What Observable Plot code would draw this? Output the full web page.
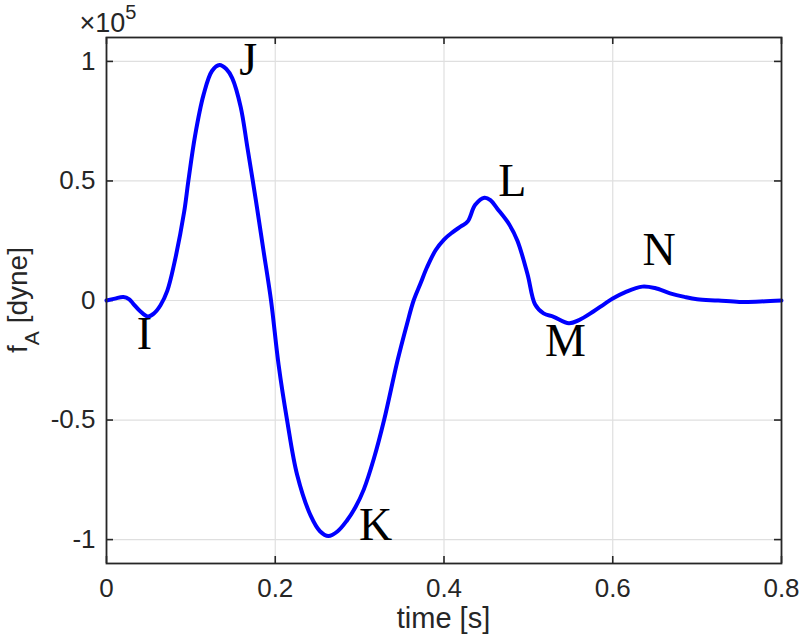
<!DOCTYPE html>
<html>
<head>
<meta charset="utf-8">
<script src="https://cdn.jsdelivr.net/npm/d3@7"></script>
<script src="https://cdn.jsdelivr.net/npm/@observablehq/plot@0.6"></script>
<style>
  html, body { margin: 0; padding: 0; background: #fff; }
</style>
</head>
<body>
<div id="chart"></div>
<script>
// time in seconds, force in units of 1e5 dyne
const time = [0, 0.01, 0.02, 0.027, 0.032, 0.04, 0.049, 0.056, 0.064, 0.072, 0.08, 0.092, 0.097, 0.105, 0.115, 0.125, 0.134, 0.142, 0.149, 0.159, 0.167, 0.177, 0.186, 0.195, 0.204, 0.214, 0.226, 0.242, 0.253, 0.263, 0.274, 0.285, 0.295, 0.305, 0.317, 0.329, 0.345, 0.356, 0.364, 0.372, 0.38, 0.39, 0.4, 0.41, 0.42, 0.428, 0.437, 0.448, 0.455, 0.463, 0.477, 0.487, 0.499, 0.508, 0.518, 0.53, 0.548, 0.56, 0.577, 0.59, 0.6, 0.615, 0.635, 0.65, 0.668, 0.685, 0.7, 0.725, 0.75, 0.775, 0.8];
const force = [0, 0.008, 0.015, 0.005, -0.015, -0.045, -0.067, -0.055, -0.02, 0.04, 0.15, 0.37, 0.5, 0.69, 0.86, 0.96, 0.985, 0.968, 0.93, 0.81, 0.64, 0.42, 0.21, 0, -0.27, -0.5, -0.73, -0.9, -0.965, -0.985, -0.965, -0.92, -0.865, -0.79, -0.66, -0.5, -0.25, -0.1, 0, 0.07, 0.14, 0.21, 0.255, 0.285, 0.31, 0.33, 0.4, 0.43, 0.42, 0.385, 0.32, 0.25, 0.11, -0.017, -0.054, -0.068, -0.095, -0.082, -0.046, -0.015, 0.008, 0.035, 0.058, 0.052, 0.03, 0.015, 0.005, 0, -0.006, -0.004, 0];

const xTicks = [0, 0.2, 0.4, 0.6, 0.8];
const xTickLabels = ["0", "0.2", "0.4", "0.6", "0.8"];
const yTicks = [-1, -0.5, 0, 0.5, 1];
const yTickLabels = ["-1", "-0.5", "0", "0.5", "1"];

const pointNames = ["I", "J", "K", "L", "M", "N"];
const pointT = [0.045, 0.168, 0.319, 0.481, 0.544, 0.655];
const pointV = [-0.142, 1.004, -0.941, 0.498, -0.172, 0.209];

const xLabel = "time [s]";
const yLabelMain = "f";
const yLabelSub = "A";
const yLabelRest = " [dyne]";
const exponentBase = "×10";
const exponent = "5";

const series = time.map((t, i) => ({t, v: force[i]}));
const points = pointNames.map((n, i) => ({n, t: pointT[i], v: pointV[i]}));

const W = 800, H = 641;
const mL = 106, mR = 19, mT = 37, mB = 78;
const innerH = H - mT - mB;
const innerW = W - mL - mR;
const tickLen = 7;
const axisColor = "#262626";
const gridColor = "#dfdfdf";
const sans = "'Liberation Sans', Arial, sans-serif";

const chart = Plot.plot({
  width: W,
  height: H,
  marginLeft: mL,
  marginRight: mR,
  marginTop: mT,
  marginBottom: mB,
  style: {fontFamily: sans, fontSize: "26px", color: axisColor, background: "#fff"},
  x: {domain: [0, 0.8]},
  y: {domain: [-1.1, 1.1]},
  marks: [
    Plot.gridX(xTicks, {stroke: gridColor, strokeOpacity: 1, strokeWidth: 1.2}),
    Plot.gridY(yTicks, {stroke: gridColor, strokeOpacity: 1, strokeWidth: 1.2}),
    Plot.axisX(xTicks, {tickSize: 0, tickPadding: 15, fontSize: 26, tickFormat: (d) => xTickLabels[xTicks.indexOf(d)], label: null, fill: axisColor}),
    Plot.axisY(yTicks, {tickSize: 0, tickPadding: 11, fontSize: 26, tickFormat: (d) => yTickLabels[yTicks.indexOf(d)], label: null, fill: axisColor}),
    // inward ticks on all four sides
    Plot.tickX(xTicks, {x: d => d, insetTop: innerH - tickLen, stroke: axisColor, strokeWidth: 1.6}),
    Plot.tickX(xTicks, {x: d => d, insetBottom: innerH - tickLen, stroke: axisColor, strokeWidth: 1.6}),
    Plot.tickY(yTicks, {y: d => d, insetRight: innerW - tickLen, stroke: axisColor, strokeWidth: 1.6}),
    Plot.tickY(yTicks, {y: d => d, insetLeft: innerW - tickLen, stroke: axisColor, strokeWidth: 1.6}),
    Plot.line(series, {x: "t", y: "v", stroke: "#0000ff", strokeWidth: 4, curve: "catmull-rom"}),
    Plot.text(points, {x: "t", y: "v", text: "n", fontFamily: "'Liberation Serif', 'Times New Roman', serif", fontSize: 46, fill: "#000"}),
    Plot.frame({stroke: axisColor, strokeWidth: 1.8})
  ]
});

const svg = d3.select(chart);
// x axis label
svg.append("text")
  .attr("x", mL + innerW / 2)
  .attr("y", 628)
  .attr("text-anchor", "middle")
  .attr("fill", axisColor)
  .attr("font-family", sans)
  .attr("font-size", 29)
  .text(xLabel);
// y axis label with subscript
const yl = svg.append("text")
  .attr("transform", `translate(27, ${mT + innerH / 2}) rotate(-90)`)
  .attr("text-anchor", "middle")
  .attr("fill", axisColor)
  .attr("font-family", sans)
  .attr("font-size", 28);
yl.append("tspan").text(yLabelMain);
yl.append("tspan").attr("font-size", 21).attr("dy", 12).text(yLabelSub);
yl.append("tspan").attr("dy", -12).text(yLabelRest);
// exponent
const ex = svg.append("text")
  .attr("x", mL + 2)
  .attr("y", 32)
  .attr("fill", axisColor)
  .attr("font-family", sans)
  .attr("font-size", 27);
ex.append("tspan").text(exponentBase);
ex.append("tspan").attr("font-size", 20).attr("dy", -13).text(exponent);

document.getElementById("chart").appendChild(chart);
</script>
</body>
</html>
